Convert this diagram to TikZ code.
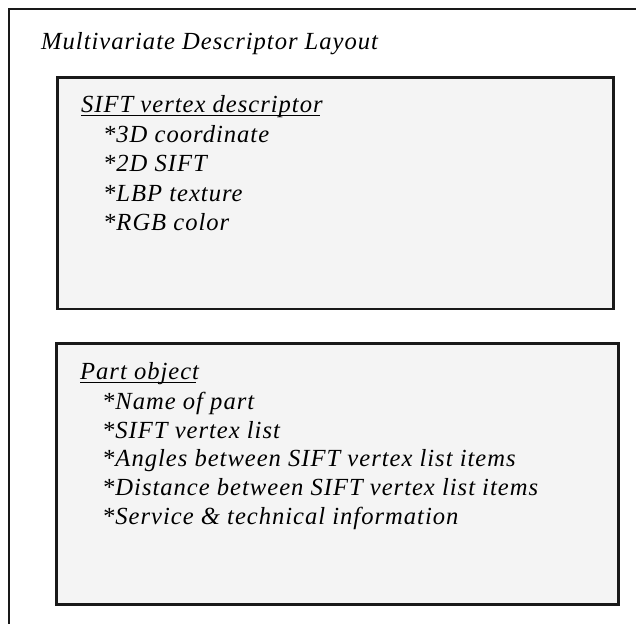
\documentclass[tikz,border=0pt]{standalone}
\usepackage{fontspec}
\setmainfont{Liberation Serif}[LetterSpace=4]
\definecolor{panelfill}{RGB}{244,244,244}
\definecolor{panelline}{RGB}{25,25,25}
\begin{document}
\begin{tikzpicture}[x=1pt,y=-1pt,
  txt/.style={anchor=base west,inner sep=0pt,font=\fontsize{24.6}{29}\selectfont\itshape},
  panel/.style={draw=panelline,line width=2.6pt,fill=panelfill,anchor=north west,inner sep=0pt},
  frame/.style={draw=black!90,line width=2pt},
  ul/.style={draw=black,line width=1pt}]
\useasboundingbox (0,0) rectangle (636,623);
% open outer frame: top and left edges only
\coordinate (ftr) at (640,9.5);
\coordinate (ftl) at (8.5,9.5);
\coordinate (fbl) at (8.5,630);
\draw[frame] (ftr) -- (ftl) -- (fbl);
\node[txt] (title) at (41,50) {Multivariate Descriptor Layout};

% SIFT vertex descriptor panel
\node[panel,minimum width=556pt,minimum height=231pt] (p1) at (56,76.5) {};
\node[txt] (h1) at (81,112) {SIFT vertex descriptor};
\draw[ul] ([yshift=-3pt]h1.base west) -- ([yshift=-3pt,xshift=-3pt]h1.base east);
\node[txt] (a1) at (103,142) {*3D coordinate};
\node[txt] (a2) at (103,171.5) {*2D SIFT};
\node[txt] (a3) at (103,201) {*LBP texture};
\node[txt] (a4) at (103,230) {*RGB color};

% Part object panel
\node[panel,minimum width=562pt,minimum height=261pt] (p2) at (55,342) {};
\node[txt] (h2) at (80,379.5) {Part object};
\draw[ul] ([yshift=-3pt]h2.base west) -- ([yshift=-3pt,xshift=-3pt]h2.base east);
\node[txt] (b1) at (102,409.5) {*Name of part};
\node[txt] (b2) at (102,438) {*SIFT vertex list};
\node[txt] (b3) at (102,466.5) {*Angles between SIFT vertex list items};
\node[txt] (b4) at (102,495.5) {*Distance between SIFT vertex list items};
\node[txt] (b5) at (102,524.5) {*Service \& technical information};
\end{tikzpicture}
\end{document}
